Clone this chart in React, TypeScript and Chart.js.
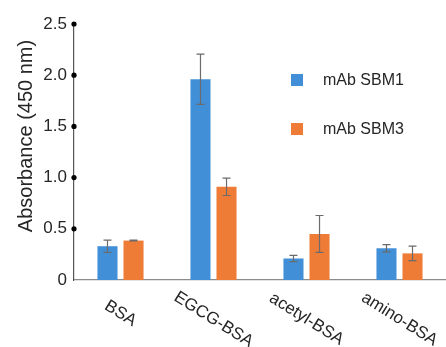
import React, { useEffect, useRef } from "react";
import { Chart, registerables } from "chart.js";

Chart.register(...registerables);

const categories = ["BSA", "EGCG-BSA", "acetyl-BSA", "amino-BSA"];
const seriesNames = ["mAb SBM1", "mAb SBM3"];
const sbm1Values = [0.33, 1.96, 0.21, 0.31];
const sbm1Errors = [0.06, 0.245, 0.03, 0.035];
const sbm3Values = [0.385, 0.91, 0.45, 0.26];
const sbm3Errors = [0.004, 0.085, 0.18, 0.07];
const yTicks = [0, 0.5, 1.0, 1.5, 2.0, 2.5];
const yTitle = "Absorbance (450 nm)";

const BLUE = "#418fd7";
const ORANGE = "#ee7b36";
const FONT = "'Liberation Sans', Arial, sans-serif";

const errorBarsPlugin = {
  id: "errorBars",
  afterDatasetsDraw(chart: any) {
    const ctx = chart.ctx;
    const y = chart.scales.y;
    ctx.save();
    ctx.strokeStyle = "#6b6b6b";
    ctx.lineWidth = 1.2;
    chart.data.datasets.forEach((ds: any, di: number) => {
      const meta = chart.getDatasetMeta(di);
      meta.data.forEach((bar: any, i: number) => {
        const v = ds.data[i];
        const e = ds.errors[i];
        const x = bar.x;
        const top = y.getPixelForValue(v + e);
        const bot = y.getPixelForValue(v - e);
        ctx.beginPath();
        ctx.moveTo(x, top);
        ctx.lineTo(x, bot);
        ctx.moveTo(x - 4, top);
        ctx.lineTo(x + 4, top);
        ctx.moveTo(x - 4, bot);
        ctx.lineTo(x + 4, bot);
        ctx.stroke();
      });
    });
    ctx.restore();
  },
};

const decorPlugin = {
  id: "decor",
  afterDraw(chart: any) {
    const ctx = chart.ctx;
    const xs = chart.scales.x;
    const ys = chart.scales.y;
    const area = chart.chartArea;
    ctx.save();
    // y-axis tick dots
    ctx.fillStyle = "#000";
    yTicks.forEach((t) => {
      if (t === 0) return;
      const py = ys.getPixelForValue(t);
      ctx.beginPath();
      ctx.arc(area.left, py, 2.6, 0, Math.PI * 2);
      ctx.fill();
    });
    // y-axis title
    ctx.save();
    ctx.font = `20px ${FONT}`;
    ctx.fillStyle = "#262626";
    ctx.textAlign = "center";
    ctx.textBaseline = "alphabetic";
    ctx.translate(32, 136);
    ctx.rotate(-Math.PI / 2);
    ctx.fillText(yTitle, 0, 0);
    ctx.restore();
    // rotated x labels
    ctx.font = `17px ${FONT}`;
    ctx.fillStyle = "#262626";
    ctx.textAlign = "center";
    ctx.textBaseline = "middle";
    const ang = (32 * Math.PI) / 180;
    categories.forEach((c, i) => {
      const px = xs.getPixelForValue(i);
      const w = ctx.measureText(c).width;
      const half = (w * Math.sin(ang) + 12 * Math.cos(ang)) / 2;
      const py = area.bottom + 28 + 0.4 * half;
      ctx.save();
      ctx.translate(px, py);
      ctx.rotate(ang);
      ctx.fillText(c, 0, 0);
      ctx.restore();
    });
    // legend
    ctx.font = `16px ${FONT}`;
    const colors = [BLUE, ORANGE];
    const ly = [80, 129];
    ctx.textAlign = "left";
    seriesNames.forEach((n, i) => {
      ctx.fillStyle = colors[i];
      ctx.fillRect(291, ly[i] - 6, 12, 12);
      ctx.fillStyle = "#262626";
      ctx.fillText(n, 323, ly[i] + 1);
    });
    ctx.restore();
  },
};

export default function App() {
  const ref = useRef<HTMLCanvasElement>(null);
  useEffect(() => {
    const chart = new Chart(ref.current as HTMLCanvasElement, {
      type: "bar",
      data: {
        labels: categories,
        datasets: [
          { label: seriesNames[0], data: sbm1Values, errors: sbm1Errors, backgroundColor: BLUE } as any,
          { label: seriesNames[1], data: sbm3Values, errors: sbm3Errors, backgroundColor: ORANGE } as any,
        ],
      },
      options: {
        animation: false,
        responsive: false,
        maintainAspectRatio: false,
        layout: { padding: { top: 24, right: 0, left: 0, bottom: 0 } },
        datasets: { bar: { barPercentage: 0.77, categoryPercentage: 0.56 } },
        plugins: { legend: { display: false }, tooltip: { enabled: false } },
        scales: {
          x: {
            grid: { display: false, drawTicks: false },
            border: { display: true, color: "#8c8c8c", width: 1.2 },
            ticks: { display: false },
            afterFit: (s: any) => {
              s.height = 67;
            },
          },
          y: {
            min: 0,
            max: 2.5,
            grid: { display: false, drawTicks: false },
            border: { display: true, color: "#555", width: 1.2 },
            ticks: {
              stepSize: 0.5,
              padding: 7,
              color: "#262626",
              font: { family: FONT, size: 17 },
              callback: (v: any) => (Number(v) === 0 ? "0" : Number(v).toFixed(1)),
            },
            afterFit: (s: any) => {
              s.width = 74;
            },
          },
        },
      },
      plugins: [errorBarsPlugin, decorPlugin],
    } as any);
    return () => chart.destroy();
  }, []);
  return (
    <div style={{ position: "fixed", left: 0, top: 0, width: 446, height: 347, background: "#fff" }}>
      <canvas ref={ref} width={446} height={347} style={{ width: 446, height: 347 }} />
    </div>
  );
}
